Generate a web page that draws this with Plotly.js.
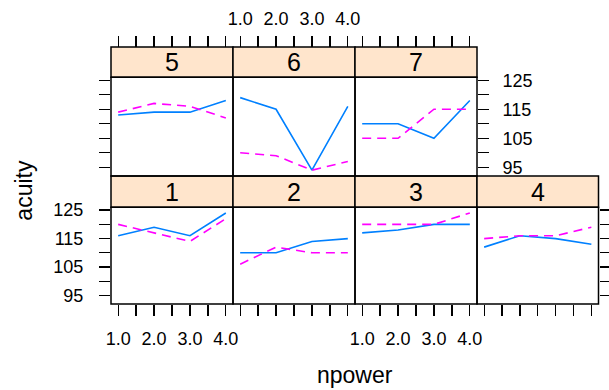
<!DOCTYPE html>
<html>
<head>
<meta charset="utf-8">
<script src="https://cdn.plot.ly/plotly-3.0.1.min.js"></script>
<style>html,body{margin:0;padding:0;background:#fff;}#chart{width:609px;height:390px;}</style>
</head>
<body>
<div id="chart"></div>
<script>
// ---- data ----
const npower = [1, 2, 3, 4];
const panelLabels = ['1', '2', '3', '4', '5', '6', '7'];
const solid1 = [116, 119, 116, 124];
const dashed1 = [120, 117, 114, 122];
const solid2 = [110, 110, 114, 115];
const dashed2 = [106, 112, 110, 110];
const solid3 = [117, 118, 120, 120];
const dashed3 = [120, 120, 120, 124];
const solid4 = [112, 116, 115, 113];
const dashed4 = [115, 116, 116, 119];
const solid5 = [113, 114, 114, 118];
const dashed5 = [114, 117, 116, 112];
const solid6 = [119, 115, 94, 116];
const dashed6 = [100, 99, 94, 97];
const solid7 = [110, 110, 105, 118];
const dashed7 = [105, 105, 115, 115];
const xTickVals = [1, 1.5, 2, 2.5, 3, 3.5, 4];
const xTickText = ['1.0', '', '2.0', '', '3.0', '', '4.0'];
const yTickVals = [95, 100, 105, 110, 115, 120, 125];
const yTickText = ['95', '', '105', '', '115', '', '125'];

const solidSeries = [solid1, solid2, solid3, solid4, solid5, solid6, solid7];
const dashedSeries = [dashed1, dashed2, dashed3, dashed4, dashed5, dashed6, dashed7];

// ---- geometry (pixels) ----
const W = 609, H = 390;
const colX = [111, 233, 355, 477, 598.5];
const rowTop = {strip: [47, 77.3], panel: [77.3, 176]};
const rowBot = {strip: [176, 207.3], panel: [207.3, 304]};
const px = v => v / W;
const py = v => 1 - v / H;
const FONT = 'Liberation Sans, Arial, Helvetica, sans-serif';
const tickFont = {family: FONT, size: 18, color: '#000'};
const tickStyle = {ticks: 'outside', ticklen: 11, tickwidth: 1.3, tickcolor: '#000', tickmode: 'array'};

// panel index -> [col, row]
const place = {1: [0, 'b'], 2: [1, 'b'], 3: [2, 'b'], 4: [3, 'b'], 5: [0, 't'], 6: [1, 't'], 7: [2, 't']};

const traces = [];
const layout = {
  width: W, height: H,
  margin: {l: 0, r: 0, t: 0, b: 0},
  paper_bgcolor: '#fff', plot_bgcolor: 'rgba(0,0,0,0)',
  showlegend: false,
  font: {family: FONT, color: '#000'},
  shapes: [], annotations: []
};

for (let i = 1; i <= 7; i++) {
  const [c, r] = place[i];
  const row = r === 't' ? rowTop : rowBot;
  const sfx = i === 1 ? '' : String(i);
  const xa = Object.assign({}, tickStyle, {
    domain: [px(colX[c]), px(colX[c + 1])],
    range: [0.8, 4.2],
    showgrid: false, zeroline: false, showline: false,
    automargin: false, fixedrange: true,
    tickvals: xTickVals, ticktext: xTickText, tickfont: tickFont
  });
  if (r === 'b') {
    Object.assign(xa, {anchor: 'y' + sfx, side: 'bottom',
      showticklabels: (i === 1 || i === 3), ticklabelstandoff: 7});
  } else {
    // top row: ticks sit above the strip
    Object.assign(xa, {anchor: 'free', position: py(rowTop.strip[0]), side: 'top',
      showticklabels: i === 6, ticklabelstandoff: 4});
  }
  const ya = {
    domain: [py(row.panel[1]), py(row.panel[0])],
    range: [92, 126],
    showgrid: false, zeroline: false, showline: false,
    anchor: 'x' + sfx, automargin: false,
    ticks: '', showticklabels: false, fixedrange: true
  };
  if (i === 1 || i === 5) {
    Object.assign(ya, tickStyle, {tickvals: yTickVals, ticktext: yTickText,
      showticklabels: i === 1, tickfont: tickFont, ticklabelstandoff: 12});
  }
  if (i === 4 || i === 7) {
    Object.assign(ya, tickStyle, {side: 'right', tickvals: yTickVals, ticktext: yTickText,
      showticklabels: i === 7, tickfont: tickFont, ticklabelstandoff: 10});
  }
  layout['xaxis' + sfx] = xa;
  layout['yaxis' + sfx] = ya;

  traces.push({
    x: npower, y: solidSeries[i - 1], type: 'scatter', mode: 'lines',
    xaxis: 'x' + sfx, yaxis: 'y' + sfx,
    line: {color: '#0080ff', width: 1.6}, hoverinfo: 'skip'
  });
  traces.push({
    x: npower, y: dashedSeries[i - 1], type: 'scatter', mode: 'lines',
    xaxis: 'x' + sfx, yaxis: 'y' + sfx,
    line: {color: '#ff00ff', width: 1.6, dash: '9px,6px'}, hoverinfo: 'skip'
  });

  // strip
  layout.shapes.push({type: 'rect', xref: 'paper', yref: 'paper', layer: 'below',
    x0: px(colX[c]), x1: px(colX[c + 1]), y0: py(row.strip[1]), y1: py(row.strip[0]),
    fillcolor: '#ffe5cc', line: {color: '#000', width: 1.5}});
  // panel frame
  layout.shapes.push({type: 'rect', xref: 'paper', yref: 'paper', layer: 'above',
    x0: px(colX[c]), x1: px(colX[c + 1]), y0: py(row.panel[1]), y1: py(row.panel[0]),
    fillcolor: 'rgba(0,0,0,0)', line: {color: '#000', width: 1.5}});
  layout.annotations.push({xref: 'paper', yref: 'paper', showarrow: false,
    x: px((colX[c] + colX[c + 1]) / 2), y: py((row.strip[0] + row.strip[1]) / 2),
    xanchor: 'center', yanchor: 'middle', text: panelLabels[i - 1],
    font: {family: FONT, size: 25, color: '#000'}});
}

// axis titles
layout.annotations.push({xref: 'paper', yref: 'paper', showarrow: false,
  x: px((colX[0] + colX[4]) / 2), y: py(375), xanchor: 'center', yanchor: 'middle',
  text: 'npower', font: {family: FONT, size: 23, color: '#000'}});
layout.annotations.push({xref: 'paper', yref: 'paper', showarrow: false,
  x: px(24), y: py((rowTop.panel[0] + rowBot.panel[1]) / 2), xanchor: 'center', yanchor: 'middle',
  textangle: -90, text: 'acuity', font: {family: FONT, size: 23, color: '#000'}});

Plotly.newPlot('chart', traces, layout, {displayModeBar: false, staticPlot: true});
</script>
</body>
</html>
